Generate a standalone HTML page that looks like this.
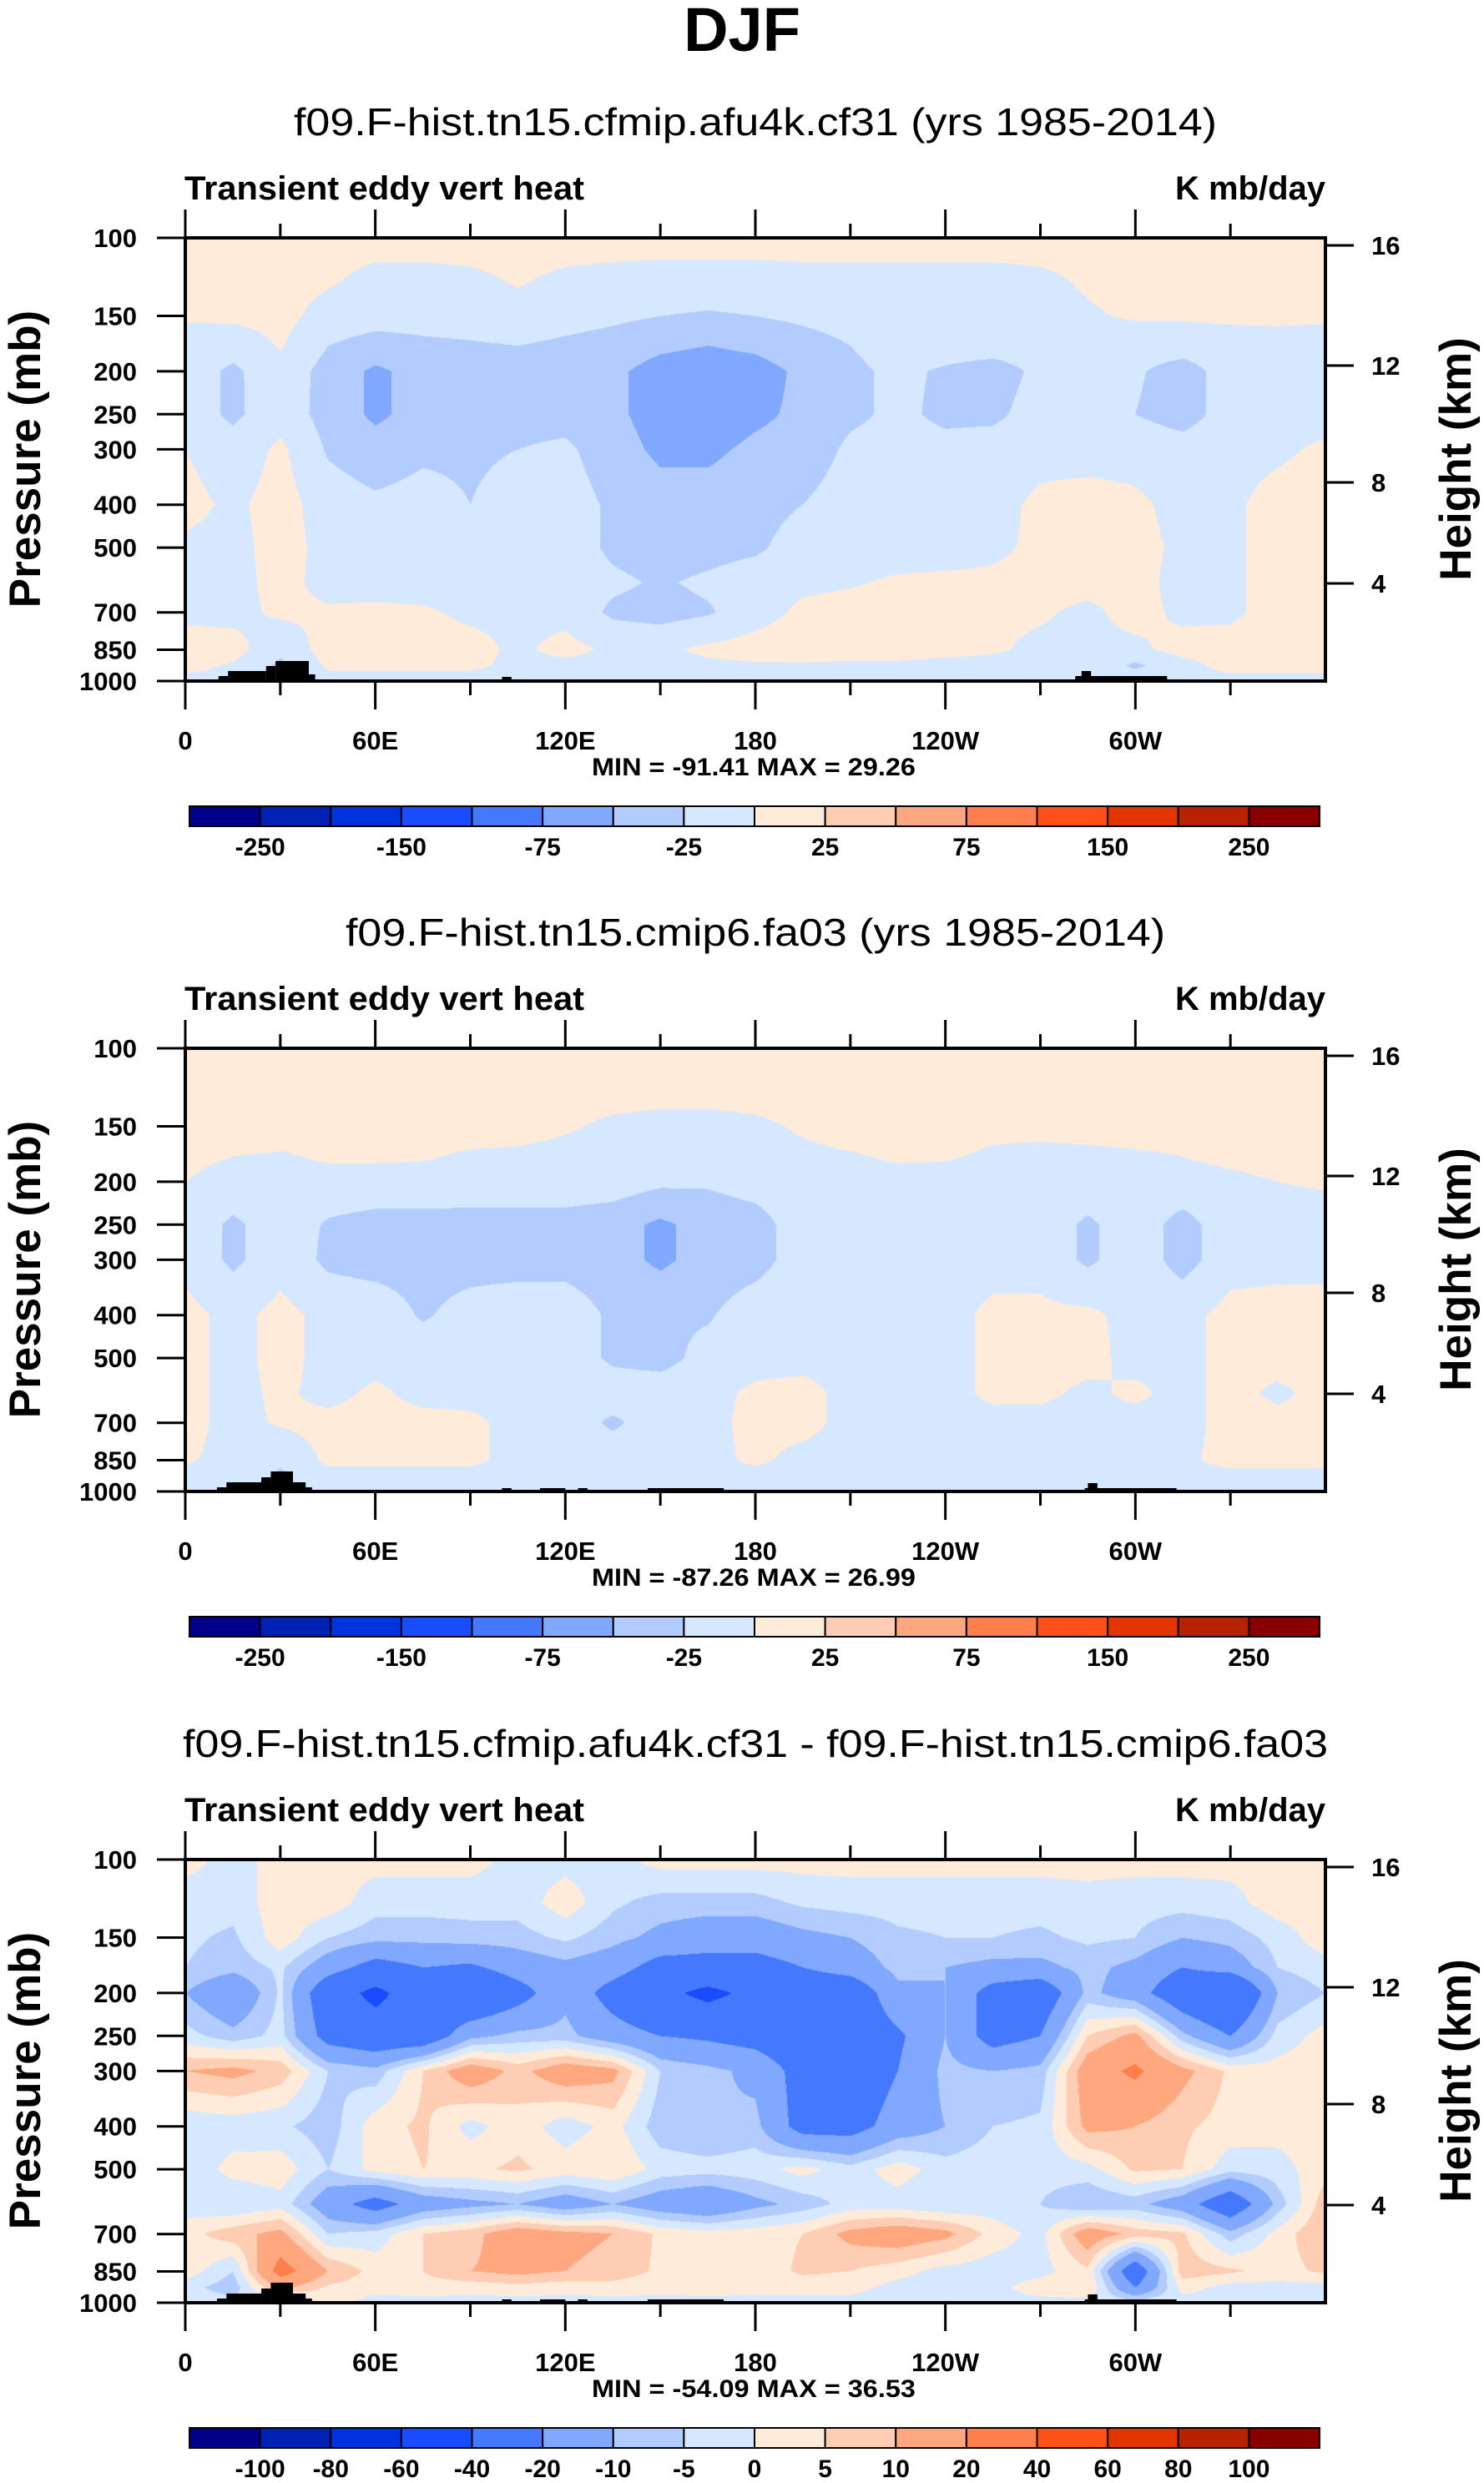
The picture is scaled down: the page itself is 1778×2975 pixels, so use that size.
<!DOCTYPE html>
<html><head><meta charset="utf-8">
<style>
html,body{margin:0;padding:0;background:#fff;}
#page{position:relative;width:1778px;height:2975px;overflow:hidden;background:#fff;}
canvas{position:absolute;}
svg{position:absolute;left:0;top:0;}
text{font-family:"Liberation Sans",Arial,sans-serif;fill:#000;}
</style></head>
<body>
<div id="page">
<canvas id="c1" width="1366" height="531" style="left:222px;top:285px"></canvas>
<canvas id="c2" width="1366" height="531" style="left:222px;top:1256px"></canvas>
<canvas id="c3" width="1366" height="531" style="left:222px;top:2228px"></canvas>
<svg id="ov" width="1778" height="2975" viewBox="0 0 1778 2975">
<text x="889" y="61" text-anchor="middle" font-size="74" font-weight="bold">DJF</text>
</svg>
</div>
<script>
// ---------- data ----------
const lons = [0,15,30,45,60,75,90,105,120,135,150,165,180,195,210,225,240,255,270,285,300,315,330,345,360];
const pressures = [100,125,150,175,200,250,300,400,500,600,700,850,925,1000];
const panel1Values = [
[10,10,10,10,10,10,10,10,10,10,10,10,10,10,10,10,10,10,10,10,10,10,10,10,10],
[10,10,10,3,-8,-8,-5,2,-5,-8,-10,-10,-10,-8,-8,-8,-8,-8,-5,3,10,10,10,10,10],
[3,5,8,-10,-15,-15,-12,-8,-15,-20,-25,-28,-25,-20,-15,-12,-12,-12,-10,-3,3,3,5,5,3],
[-10,-15,2,-25,-35,-30,-28,-25,-30,-35,-45,-50,-45,-35,-25,-15,-15,-15,-15,-15,-15,-15,-12,-10,-8],
[-12,-30,-8,-35,-55,-40,-45,-35,-35,-45,-60,-65,-60,-45,-30,-20,-28,-35,-20,-15,-22,-35,-15,-12,-12],
[-12,-30,-10,-35,-55,-40,-45,-35,-35,-45,-60,-65,-55,-45,-30,-20,-30,-30,-15,-15,-25,-35,-15,-12,-12],
[0,-15,5,-28,-40,-30,-30,-25,-20,-40,-55,-55,-45,-40,-20,-15,-18,-15,-8,-10,-10,-15,-10,-5,5],
[8,-5,10,-12,-20,-15,-25,-12,-12,-30,-40,-40,-35,-25,-12,-10,-10,-8,5,10,5,-8,-5,10,12],
[-5,-8,10,-8,-10,-10,-12,-12,-12,-30,-38,-35,-30,-12,-10,-10,-10,-5,5,10,8,-5,-5,10,12],
[-5,-8,8,-8,-10,-10,-10,-10,-10,-20,-28,-20,-10,-5,-2,3,5,5,8,8,8,-8,-5,10,12],
[-5,-8,5,3,5,3,-5,-5,-8,-30,-35,-28,-10,5,8,10,10,5,3,-5,8,-5,-5,10,12],
[10,10,-20,12,12,12,8,-5,8,-5,-5,5,10,12,12,12,8,3,-5,-5,-5,8,10,10,10],
[8,-3,-30,4,5,5,4,-5,-8,-8,-8,-5,-3,-3,-5,-5,-8,-8,-8,-3,-30,-8,8,8,8],
[-8,-8,-8,-8,-8,-8,-8,-8,-8,-8,-8,-8,-8,-8,-8,-8,-8,-8,-8,-8,-8,-8,-8,-8,-8]];
const panel2Values = [
[10,10,10,10,10,10,10,10,10,10,10,10,10,10,10,10,10,10,10,10,10,10,10,10,10],
[10,10,10,10,10,10,10,10,10,10,10,10,10,10,10,10,10,10,10,10,10,10,10,10,10],
[10,10,10,10,10,10,10,10,3,-5,-10,-10,-5,3,10,8,8,5,5,8,10,10,10,10,10],
[5,0,-2,3,3,2,-3,-5,-8,-10,-12,-12,-10,-5,-2,3,2,-3,-5,-5,-3,0,5,8,8],
[0,-8,-8,-8,-8,-8,-10,-10,-10,-12,-20,-22,-15,-10,-8,-8,-8,-8,-8,-8,-8,-8,-5,0,2],
[-8,-30,-10,-28,-35,-35,-35,-35,-35,-40,-55,-40,-35,-12,-8,-8,-8,-8,-8,-30,-10,-35,-10,-8,-8],
[-8,-30,-10,-30,-35,-35,-35,-35,-35,-40,-55,-40,-35,-12,-8,-8,-8,-8,-8,-30,-10,-35,-10,-8,-8],
[8,-8,8,-8,-10,-28,-15,-10,-10,-30,-30,-28,-10,-8,-8,-8,-8,5,5,5,-8,-8,8,10,10],
[8,-8,8,-8,-10,-10,-10,-10,-10,-30,-35,-15,-10,-8,-8,-8,-8,5,8,8,-8,-8,8,10,10],
[8,-8,5,-8,5,-8,-8,-8,-10,-10,-10,-8,5,8,-8,-8,-8,5,5,-5,5,-8,8,-5,8],
[8,-8,3,8,8,8,5,-8,-10,-30,-10,-8,8,8,-8,-8,-8,-8,-8,-8,-8,-8,8,8,5],
[3,-8,-20,5,5,5,5,-8,-8,-8,-8,-8,5,-8,-8,-8,-8,-8,-8,-8,-8,-5,8,8,8],
[-8,-8,-30,-8,-8,-8,-8,-8,-8,-8,-8,-8,-8,-8,-8,-8,-8,-8,-8,-8,-8,-8,-8,-8,-8],
[-8,-8,-8,-8,-8,-8,-8,-8,-8,-8,-8,-8,-8,-8,-8,-8,-8,-8,-8,-8,-8,-8,-8,-8,-8]];
const panel3Values = [
[2,-2,2,2,2,2,2,-2,-2,-2,2,2,2,2,2,2,2,2,2,2,2,2,2,2,2],
[-3,-3,3,3,-3,-3,-3,-3,3,-4,-7,-7,-7,-4,-3,-3,-3,-3,-3,-2,-3,-3,-2,3,2],
[-4,-6,3,-5,-8,-8,-7,-7,-4,-8,-12,-15,-15,-12,-10,-6,-5,-5,-6,-4,-5,-10,-8,-3,3],
[-5,-8,-4,-15,-25,-20,-22,-15,-12,-15,-25,-25,-25,-20,-15,-8,-10,-12,-12,-8,-12,-20,-15,-5,-2],
[-10,-18,-4,-30,-45,-28,-35,-25,-12,-25,-35,-45,-35,-30,-30,-12,-10,-25,-30,-8,-15,-30,-40,-10,-5],
[-3,-8,-3,-25,-30,-30,-12,-8,-8,-15,-20,-22,-25,-30,-30,-22,-10,-25,-20,5,12,-8,-20,-3,2],
[10,12,8,-5,-8,5,15,8,15,12,-5,-8,-12,-25,-30,-20,-8,-10,-8,15,22,12,4,2,3],
[-4,-3,-4,-8,3,6,-2,3,-3,2,-8,-10,-8,-25,-25,-15,-10,-5,-4,12,10,6,3,2,3],
[-4,2,3,-5,2,5,4,6,3,5,-2,-3,-2,2,-3,3,-3,-2,-3,-2,6,5,-3,-2,3],
[-3,-5,-2,-15,-25,-15,-12,-10,-15,-10,-15,-18,-12,-8,-3,-3,-5,-3,-5,-10,-8,-15,-30,-8,8],
[3,8,12,-5,-3,5,8,15,12,10,4,2,3,5,12,15,12,3,-2,15,8,6,-8,2,10],
[3,-5,25,10,3,5,10,12,10,8,4,3,2,6,5,2,-2,-3,-2,4,-30,8,6,3,6],
[-3,-8,12,4,2,3,2,3,2,3,2,3,2,2,2,-2,-2,-2,3,5,-20,2,-2,-2,-2],
[-2,-3,-8,2,-2,-2,-2,-2,-2,-2,-2,-2,-2,-2,-2,-2,-2,-2,-2,-2,-2,-2,-2,-2,-2]];
const levelsAbs = [-250,-200,-150,-100,-75,-50,-25,0,25,50,75,100,150,200,250];
const levelsDiff = [-100,-80,-60,-40,-20,-10,-5,0,5,10,20,40,60,80,100];
const labelsAbs = ["","-250","","-150","","-75","","-25","","25","","75","","150","","250"];
const labelsDiff = ["","-100","-80","-60","-40","-20","-10","-5","0","5","10","20","40","60","80","100"];
const lonTickLabels = ["0","60E","120E","180","120W","60W"];
const pressureTicks = [100,150,200,250,300,400,500,700,850,1000];
const heightTickLabels = ["16","12","8","4"];
const heightTickOffsets = [9,153,293,414];
const subtitles = ["f09.F-hist.tn15.cfmip.afu4k.cf31 (yrs 1985-2014)","f09.F-hist.tn15.cmip6.fa03 (yrs 1985-2014)","f09.F-hist.tn15.cfmip.afu4k.cf31 - f09.F-hist.tn15.cmip6.fa03"];
const subtitleWidths = [1106,982,1372];
const minMaxText = ["MIN = -91.41  MAX =  29.26","MIN = -87.26  MAX =  26.99","MIN = -54.09  MAX =  36.53"];
const topo1 = [[10.5,13.5,6],[13.5,25.5,12],[25.5,28.5,18],[28.5,39,24],[39,41,8],[100,103,5],[281,310,6],[283,286,12]];
const topo2 = [[10,13,5],[13,24,11],[24,27,17],[27,34,24],[34,38,11],[38,40,5],[100,103,4],[112,120,4],[124,127,4],[146,170,4],[284,313,4],[285,288,10]];
const palette = ["#00008a","#0022b4","#0033e0","#1a4cff","#4479ff","#80a8ff","#b3ccff","#d6e8ff","#ffebd9","#ffcdb3","#ffa880","#ff7f4c","#ff5019","#e33500","#b82200","#8a0000"];

// ---------- geometry ----------
const FX0=222, FX1=1588, FW=FX1-FX0, FH=531;
const panelTops=[285,1256,2228];
const xOf = lon => FX0 + lon/360*FW;
const yFrac = p => Math.log10(p/100);
const NS='http://www.w3.org/2000/svg';
const ov=document.getElementById('ov');
function mk(tag, attrs, txt){const e=document.createElementNS(NS,tag);for(const k in attrs)e.setAttribute(k,attrs[k]);if(txt!==undefined)e.textContent=txt;ov.appendChild(e);return e;}
function hexRGB(h){return [parseInt(h.substr(1,2),16),parseInt(h.substr(3,2),16),parseInt(h.substr(5,2),16)];}
const palRGB=palette.map(hexRGB);

function sample(grid, lon, f){
  let i=Math.min(Math.floor(lon/15),23); let tx=(lon-lons[i])/15;
  let j=0; const fr=pressures.map(yFrac);
  while(j<fr.length-2 && f>fr[j+1]) j++;
  let ty=(f-fr[j])/(fr[j+1]-fr[j]);
  const a=grid[j][i],b=grid[j][i+1],c=grid[j+1][i],d=grid[j+1][i+1];
  return (a*(1-tx)+b*tx)*(1-ty)+(c*(1-tx)+d*tx)*ty;
}
function binIndex(v, lev){let k=0;while(k<lev.length && v>=lev[k])k++;return k;}
function drawField(id, grid, lev){
  const cv=document.getElementById(id), ctx=cv.getContext('2d');
  const W=cv.width,H=cv.height, img=ctx.createImageData(W,H);
  for(let y=0;y<H;y++){const f=y/(H-1);
    for(let x=0;x<W;x++){const lon=x/(W-1)*360;
      const c=palRGB[binIndex(sample(grid,lon,f),lev)];
      const o=(y*W+x)*4; img.data[o]=c[0];img.data[o+1]=c[1];img.data[o+2]=c[2];img.data[o+3]=255;}}
  ctx.putImageData(img,0,0);
}
drawField('c1',panel1Values,levelsAbs);
drawField('c2',panel2Values,levelsAbs);
drawField('c3',panel3Values,levelsDiff);

function drawPanel(k){
  const T=panelTops[k], B=T+FH;
  const st=mk('text',{x:905,y:T-123,'text-anchor':'middle','font-size':46,textLength:subtitleWidths[k],lengthAdjust:'spacingAndGlyphs'},subtitles[k]);
  
  
  const lt=mk('text',{x:221,y:T-46,'font-size':40,'font-weight':'bold',textLength:479,lengthAdjust:'spacingAndGlyphs'},'Transient eddy vert heat');
  
  
  const ut=mk('text',{x:1588,y:T-46,'font-size':40,'font-weight':'bold','text-anchor':'end'},'K mb/day');
  
  
  const topo = k===0?topo1:topo2;
  topo.forEach(t=>{const r=mk('rect',{x:xOf(t[0]),y:B-t[2],width:xOf(t[1])-xOf(t[0]),height:t[2],fill:'#000'});
    
    });
  const fr=mk('rect',{x:FX0,y:T,width:FW,height:FH,fill:'none',stroke:'#000','stroke-width':4});
  
  
  for(let lon=0;lon<=330;lon+=30){const x=xOf(lon), L=(lon%60===0)?34:17;
    mk('line',{x1:x,y1:T,x2:x,y2:T-L,stroke:'#000','stroke-width':3});
    mk('line',{x1:x,y1:B,x2:x,y2:B+L,stroke:'#000','stroke-width':3});}
  lonTickLabels.forEach((s,i)=>{const t=mk('text',{x:xOf(i*60),y:B+82,'text-anchor':'middle','font-size':31,'font-weight':'bold'},s);
    
    });
  pressureTicks.forEach(p=>{const y=T+yFrac(p)*FH;
    mk('line',{x1:FX0-34,y1:y,x2:FX0,y2:y,stroke:'#000','stroke-width':3});
    const t=mk('text',{x:164,y:y+11,'text-anchor':'end','font-size':31,'font-weight':'bold'},String(p));
    
    });
  heightTickLabels.forEach((s,i)=>{const y=T+heightTickOffsets[i];
    mk('line',{x1:FX1,y1:y,x2:FX1+34,y2:y,stroke:'#000','stroke-width':3});
    const t=mk('text',{x:1643,y:y+11,'font-size':31,'font-weight':'bold'},s);
    
    });
  const ya=mk('text',{x:0,y:0,'font-size':53,'font-weight':'bold','text-anchor':'middle',transform:`translate(48,${T+265}) rotate(-90)`},'Pressure (mb)');
  
  
  const yr=mk('text',{x:0,y:0,'font-size':53,'font-weight':'bold','text-anchor':'middle',transform:`translate(1762,${T+265}) rotate(-90)`},'Height (km)');
  
  
  const mm=mk('text',{x:903,y:B+113,'text-anchor':'middle','font-size':30,'font-weight':'bold',textLength:388,lengthAdjust:'spacingAndGlyphs','xml:space':'preserve'},minMaxText[k]);
  
  
  const cbY=B+150, cbX0=227, cbX1=1581, bw=(cbX1-cbX0)/16;
  const labels = k===2?labelsDiff:labelsAbs;
  for(let i=0;i<16;i++){
    const r=mk('rect',{x:cbX0+i*bw,y:cbY,width:bw,height:24,fill:palette[i],stroke:'#000','stroke-width':2});
    
    
    if(labels[i]){const t=mk('text',{x:cbX0+i*bw,y:cbY+59,'text-anchor':'middle','font-size':30,'font-weight':'bold'},labels[i]);
      
      }
  }
}
[0,1,2].forEach(drawPanel);
</script>
</body></html>
